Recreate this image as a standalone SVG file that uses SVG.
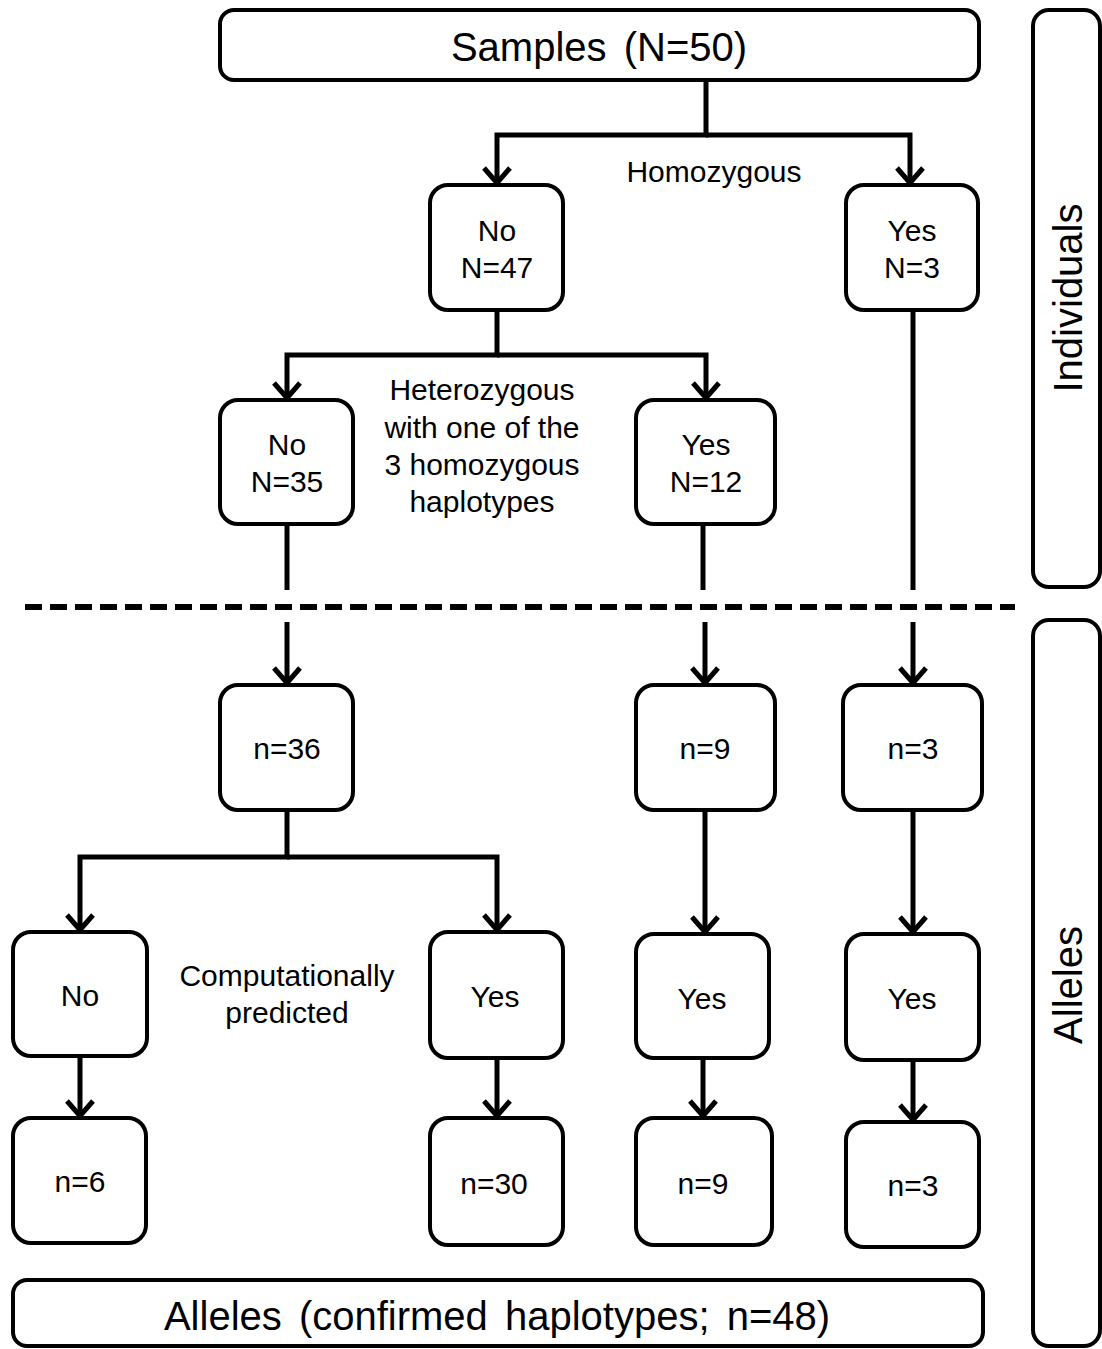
<svg xmlns="http://www.w3.org/2000/svg" width="1102" height="1349" viewBox="0 0 1102 1349">
<defs>
<style>
.box{fill:#fff;stroke:#000;stroke-width:4}
.t{font-family:"Liberation Sans",Arial,sans-serif;font-size:30px;fill:#000;text-anchor:middle}
.big{font-family:"Liberation Sans",Arial,sans-serif;font-size:40px;fill:#000;text-anchor:middle}
.ws{word-spacing:6px}
.c{fill:none;stroke:#000;stroke-width:5}
</style>
<marker id="arr" markerUnits="userSpaceOnUse" viewBox="-20 -20 30 40" markerWidth="30" markerHeight="40" refX="0" refY="0" orient="auto" overflow="visible">
<path d="M-15,-13 L0,0 L-15,13" fill="none" stroke="#000" stroke-width="5"/>
</marker>
</defs>
<rect width="1102" height="1349" fill="#fff"/>

<g id="connectors">
<path class="c" d="M706,80 V135 H497 V183" marker-end="url(#arr)"/>
<path class="c" d="M706,135 H910 V183" marker-end="url(#arr)"/>
<path class="c" d="M497,310 V355 H287 V398" marker-end="url(#arr)"/>
<path class="c" d="M497,355 H706 V398" marker-end="url(#arr)"/>
<path class="c" d="M913,310 V590"/>
<path class="c" d="M287,524 V590"/>
<path class="c" d="M703,524 V590"/>
<path class="c" d="M287,622 V683" marker-end="url(#arr)"/>
<path class="c" d="M705,622 V683" marker-end="url(#arr)"/>
<path class="c" d="M913,622 V683" marker-end="url(#arr)"/>
<path class="c" d="M287,810 V857 H80 V930" marker-end="url(#arr)"/>
<path class="c" d="M287,857 H497 V930" marker-end="url(#arr)"/>
<path class="c" d="M705,810 V932" marker-end="url(#arr)"/>
<path class="c" d="M913,810 V932" marker-end="url(#arr)"/>
<path class="c" d="M80,1056 V1116" marker-end="url(#arr)"/>
<path class="c" d="M497,1058 V1116" marker-end="url(#arr)"/>
<path class="c" d="M703,1058 V1116" marker-end="url(#arr)"/>
<path class="c" d="M913,1060 V1120" marker-end="url(#arr)"/>
<line x1="25" y1="607" x2="1015" y2="607" stroke="#000" stroke-width="6" stroke-dasharray="17 8"/>
</g>

<g id="samples"><rect class="box" x="220" y="10" width="759" height="70" rx="14"/><text class="big ws" x="599" y="61">Samples (N=50)</text></g>

<g id="homo-no"><rect class="box" x="430" y="185" width="133" height="125" rx="18"/><text class="t" x="497" y="241">No</text><text class="t" x="497" y="278">N=47</text></g>
<g id="homo-yes"><rect class="box" x="846" y="185" width="132" height="125" rx="18"/><text class="t" x="912" y="241">Yes</text><text class="t" x="912" y="278">N=3</text></g>
<text class="t" x="714" y="182">Homozygous</text>

<g id="het-no"><rect class="box" x="220" y="400" width="133" height="124" rx="18"/><text class="t" x="287" y="455">No</text><text class="t" x="287" y="492">N=35</text></g>
<g id="het-yes"><rect class="box" x="636" y="400" width="139" height="124" rx="18"/><text class="t" x="706" y="455">Yes</text><text class="t" x="706" y="492">N=12</text></g>
<g id="het-label"><text class="t" x="482" y="400">Heterozygous</text><text class="t" x="482" y="438">with one of the</text><text class="t" x="482" y="475">3 homozygous</text><text class="t" x="482" y="512">haplotypes</text></g>

<g id="n36"><rect class="box" x="220" y="685" width="133" height="125" rx="18"/><text class="t" x="287" y="759">n=36</text></g>
<g id="n9a"><rect class="box" x="636" y="685" width="139" height="125" rx="18"/><text class="t" x="705" y="759">n=9</text></g>
<g id="n3a"><rect class="box" x="843" y="685" width="139" height="125" rx="18"/><text class="t" x="913" y="759">n=3</text></g>

<g id="comp-no"><rect class="box" x="13" y="932" width="134" height="124" rx="18"/><text class="t" x="80" y="1006">No</text></g>
<g id="comp-yes"><rect class="box" x="430" y="932" width="133" height="126" rx="18"/><text class="t" x="495" y="1007">Yes</text></g>
<g id="yes-mid"><rect class="box" x="636" y="934" width="133" height="124" rx="18"/><text class="t" x="702" y="1009">Yes</text></g>
<g id="yes-right"><rect class="box" x="846" y="934" width="133" height="126" rx="18"/><text class="t" x="912" y="1009">Yes</text></g>
<g id="comp-label"><text class="t" x="287" y="986">Computationally</text><text class="t" x="287" y="1023">predicted</text></g>

<g id="n6"><rect class="box" x="13" y="1118" width="133" height="125" rx="18"/><text class="t" x="80" y="1192">n=6</text></g>
<g id="n30"><rect class="box" x="430" y="1118" width="133" height="127" rx="18"/><text class="t" x="494" y="1194">n=30</text></g>
<g id="n9b"><rect class="box" x="636" y="1118" width="136" height="127" rx="18"/><text class="t" x="703" y="1194">n=9</text></g>
<g id="n3b"><rect class="box" x="846" y="1122" width="133" height="125" rx="18"/><text class="t" x="913" y="1196">n=3</text></g>

<g id="alleles-total"><rect class="box" x="13" y="1280" width="970" height="66" rx="14"/><text class="big ws" x="497" y="1330">Alleles (confirmed haplotypes; n=48)</text></g>

<g id="side-individuals"><rect class="box" x="1033" y="10" width="67" height="577" rx="16"/><text class="big" transform="translate(1082,298) rotate(-90)" x="0" y="0">Individuals</text></g>
<g id="side-alleles"><rect class="box" x="1033" y="620" width="67" height="726" rx="16"/><text class="big" transform="translate(1082,985) rotate(-90)" x="0" y="0">Alleles</text></g>
</svg>
